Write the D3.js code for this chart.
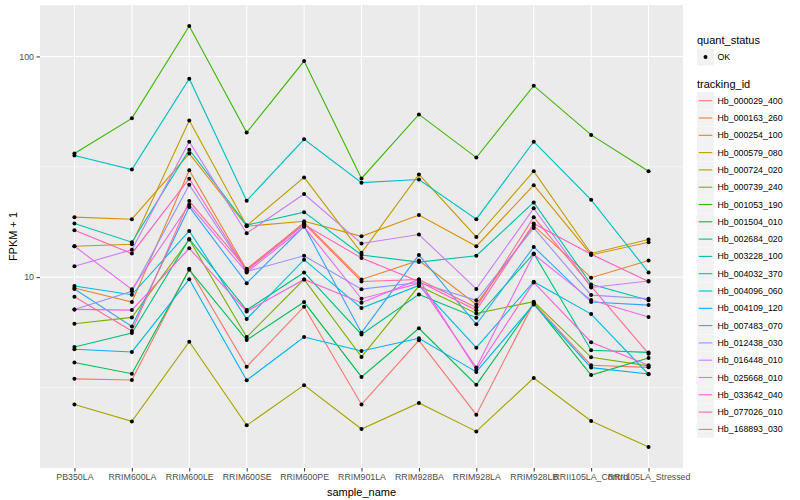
<!DOCTYPE html>
<html>
<head>
<meta charset="utf-8">
<script src="https://cdn.jsdelivr.net/npm/d3@7"></script>
<style>
  body { margin: 0; background: #fff; }
  text { font-family: "Liberation Sans", Arial, Helvetica, sans-serif; }
</style>
</head>
<body>
<svg id="chart" width="800" height="500"></svg>
<script>
// samples on the x axis
var samples = ['PB350LA', 'RRIM600LA', 'RRIM600LE', 'RRIM600SE', 'RRIM600PE', 'RRIM901LA',
    'RRIM928BA', 'RRIM928LA', 'RRIM928LB', 'RRII105LA_Control', 'RRII105LA_Stressed']

var trackingIds = ['Hb_000029_400', 'Hb_000163_260', 'Hb_000254_100', 'Hb_000579_080', 'Hb_000724_020',
    'Hb_000739_240', 'Hb_001053_190', 'Hb_001504_010', 'Hb_002684_020', 'Hb_003228_100',
    'Hb_004032_370', 'Hb_004096_060', 'Hb_004109_120', 'Hb_007483_070', 'Hb_012438_030',
    'Hb_016448_010', 'Hb_025668_010', 'Hb_033642_040', 'Hb_077026_010', 'Hb_168893_030']

// FPKM + 1, one array per tracking_id, in sample order
var hb000029_400 = [3.46, 3.42, 10.9, 3.93, 7.35, 2.65, 5.17, 2.38, 7.64, 3.99, 3.90]
var hb000163_260 = [8.92, 7.71, 30.5, 10.8, 17.7, 9.76, 11.9, 7.52, 17.1, 9.94, 11.9]
var hb000254_100 = [18.7, 18.3, 36.3, 17.0, 17.9, 15.3, 19.1, 13.8, 26.1, 12.6, 14.4]
var hb000579_080 = [13.8, 14.1, 51.3, 17.1, 28.3, 12.9, 29.2, 15.2, 30.2, 12.8, 14.8]
var hb000724_020 = [2.65, 2.22, 5.10, 2.13, 3.24, 2.05, 2.69, 2.00, 3.49, 2.23, 1.70]
var hb000739_240 = [6.15, 6.57, 14.8, 5.35, 9.76, 4.35, 9.11, 6.85, 7.74, 4.33, 3.96]
var hb001053_190 = [36.3, 52.4, 137.3, 45.2, 95.3, 28.0, 54.6, 34.8, 73.7, 44.1, 30.2]
var hb001504_010 = [4.10, 3.65, 10.8, 5.19, 7.71, 3.53, 5.86, 3.25, 7.60, 3.60, 4.30]
var hb002684_020 = [4.82, 5.58, 14.9, 7.09, 10.5, 5.50, 8.35, 6.55, 12.8, 4.66, 4.56]
var hb003228_100 = [17.5, 14.4, 37.8, 17.2, 19.7, 12.6, 11.7, 12.5, 21.8, 9.27, 7.85]
var hb004032_370 = [35.6, 30.7, 79.3, 22.2, 42.1, 26.8, 27.7, 18.3, 41.1, 22.4, 10.5]
var hb004096_060 = [9.11, 8.32, 16.2, 6.46, 12.0, 7.24, 9.17, 4.79, 9.53, 6.80, 3.63]
var hb004109_120 = [4.71, 4.58, 9.79, 3.41, 5.35, 4.63, 5.28, 3.72, 7.52, 3.89, 3.64]
var hb007483_070 = [8.84, 5.97, 20.8, 9.39, 17.0, 5.60, 12.6, 6.11, 13.7, 7.71, 7.47]
var hb012438_030 = [7.14, 8.62, 26.2, 10.6, 12.5, 8.82, 9.46, 7.85, 16.7, 8.29, 7.98]
var hb016448_010 = [11.2, 13.3, 41.1, 15.8, 23.8, 14.2, 15.6, 8.84, 20.5, 8.98, 9.61]
var hb025668_010 = [13.8, 8.80, 21.3, 10.5, 16.9, 7.98, 9.36, 3.89, 12.7, 7.87, 6.59]
var hb033642_040 = [7.14, 7.09, 13.5, 6.99, 9.76, 7.66, 9.76, 3.80, 9.46, 5.07, 3.99]
var hb077026_010 = [16.3, 12.8, 27.9, 10.7, 17.3, 12.2, 9.56, 7.07, 17.5, 12.7, 9.56]
var hb168893_030 = [8.15, 5.70, 22.1, 10.9, 17.5, 9.56, 9.76, 7.29, 18.7, 9.08, 4.50]

var seriesValues = [hb000029_400, hb000163_260, hb000254_100, hb000579_080, hb000724_020,
    hb000739_240, hb001053_190, hb001504_010, hb002684_020, hb003228_100,
    hb004032_370, hb004096_060, hb004109_120, hb007483_070, hb012438_030,
    hb016448_010, hb025668_010, hb033642_040, hb077026_010, hb168893_030]

var yBreaks = [10, 100]
var yMinorBreaks = [Math.sqrt(10), Math.sqrt(1000)]

// ggplot2 default hue palette for 20 levels
var palette = ['#F8766D', '#EA8331', '#D89000', '#C09B00', '#A3A500', '#7CAE00', '#39B600',
    '#00BB4E', '#00BF7D', '#00C1A3', '#00BFC4', '#00BAE0', '#00B0F6', '#35A2FF', '#9590FF',
    '#C77CFF', '#E76BF3', '#FA62DB', '#FF62BC', '#FF6C91']

var series = trackingIds.map(function (id, i) {
    return {
        id: id,
        values: samples.map(function (s, j) { return { sample: s, value: seriesValues[i][j] } })
    }
})

var svg = d3.select('#chart')
var panel = { left: 40, top: 5, right: 683, bottom: 468 }

var x = d3.scalePoint().domain(samples).range([panel.left, panel.right]).padding(0.6)

var all = d3.merge(seriesValues)
var lo = Math.log10(d3.min(all)), hi = Math.log10(d3.max(all))
var pad = (hi - lo) * 0.05
var y = d3.scaleLog()
    .domain([Math.pow(10, lo - pad), Math.pow(10, hi + pad)])
    .range([panel.bottom, panel.top])

var color = d3.scaleOrdinal().domain(trackingIds).range(palette)

// panel background and grid
svg.append('rect')
    .attr('x', panel.left).attr('y', panel.top)
    .attr('width', panel.right - panel.left).attr('height', panel.bottom - panel.top)
    .attr('fill', '#EBEBEB')

var grid = svg.append('g')
grid.selectAll('.minor').data(yMinorBreaks).enter().append('line')
    .attr('x1', panel.left).attr('x2', panel.right)
    .attr('y1', function (d) { return y(d) }).attr('y2', function (d) { return y(d) })
    .attr('stroke', '#fff').attr('stroke-width', 0.55)
grid.selectAll('.major').data(yBreaks).enter().append('line')
    .attr('x1', panel.left).attr('x2', panel.right)
    .attr('y1', function (d) { return y(d) }).attr('y2', function (d) { return y(d) })
    .attr('stroke', '#fff').attr('stroke-width', 1.1)
grid.selectAll('.vert').data(samples).enter().append('line')
    .attr('y1', panel.top).attr('y2', panel.bottom)
    .attr('x1', function (d) { return x(d) }).attr('x2', function (d) { return x(d) })
    .attr('stroke', '#fff').attr('stroke-width', 1.1)

// lines then points
var line = d3.line()
    .x(function (d) { return x(d.sample) })
    .y(function (d) { return y(d.value) })

svg.append('g').selectAll('path').data(series).enter().append('path')
    .attr('d', function (d) { return line(d.values) })
    .attr('fill', 'none')
    .attr('stroke', function (d) { return color(d.id) })
    .attr('stroke-width', 1.1)

svg.append('g').selectAll('circle')
    .data(d3.merge(series.map(function (d) { return d.values })))
    .enter().append('circle')
    .attr('cx', function (d) { return x(d.sample) })
    .attr('cy', function (d) { return y(d.value) })
    .attr('r', 2)
    .attr('fill', '#000')

// axes
var xAxis = svg.append('g')
    .attr('transform', 'translate(0,' + panel.bottom + ')')
    .call(d3.axisBottom(x).tickSize(3.5).tickPadding(2.5))
var yAxis = svg.append('g')
    .attr('transform', 'translate(' + panel.left + ',0)')
    .call(d3.axisLeft(y).tickValues(yBreaks).tickFormat(d3.format('d')).tickSize(3.5).tickPadding(2.5))

;[xAxis, yAxis].forEach(function (a) {
    a.select('.domain').remove()
    a.selectAll('.tick line').attr('stroke', '#333').attr('stroke-width', 1)
    a.selectAll('.tick text').attr('fill', '#4D4D4D').style('font-size', '8.8px')
        .style('font-family', '"Liberation Sans", Arial, sans-serif')
})

svg.append('text')
    .attr('x', (panel.left + panel.right) / 2).attr('y', 496)
    .attr('text-anchor', 'middle').style('font-size', '11px')
    .text('sample_name')

svg.append('text')
    .attr('transform', 'translate(17,' + (panel.top + panel.bottom) / 2 + ') rotate(-90)')
    .attr('text-anchor', 'middle').style('font-size', '11px')
    .text('FPKM + 1')

// legend
var legend = svg.append('g').attr('transform', 'translate(697,0)')
legend.append('text').attr('x', 0).attr('y', 44).style('font-size', '11px').text('quant_status')
legend.append('rect').attr('x', 0).attr('y', 48.5).attr('width', 17).attr('height', 17).attr('fill', '#F2F2F2')
legend.append('circle').attr('cx', 8.5).attr('cy', 57).attr('r', 2).attr('fill', '#000')
legend.append('text').attr('x', 20.5).attr('y', 60).style('font-size', '8.8px').text('OK')

legend.append('text').attr('x', 0).attr('y', 88).style('font-size', '11px').text('tracking_id')

var keys = legend.selectAll('.key').data(trackingIds).enter().append('g')
    .attr('transform', function (d, i) { return 'translate(0,' + (92.2 + i * 17.3) + ')' })
keys.append('rect').attr('width', 17).attr('height', 17).attr('fill', '#F2F2F2')
keys.append('line')
    .attr('x1', 1.7).attr('x2', 15.3).attr('y1', 8.5).attr('y2', 8.5)
    .attr('stroke', function (d) { return color(d) }).attr('stroke-width', 1.1)
keys.append('text').attr('x', 20.5).attr('y', 11.6).style('font-size', '8.8px')
    .text(function (d) { return d })
</script>
</body>
</html>
